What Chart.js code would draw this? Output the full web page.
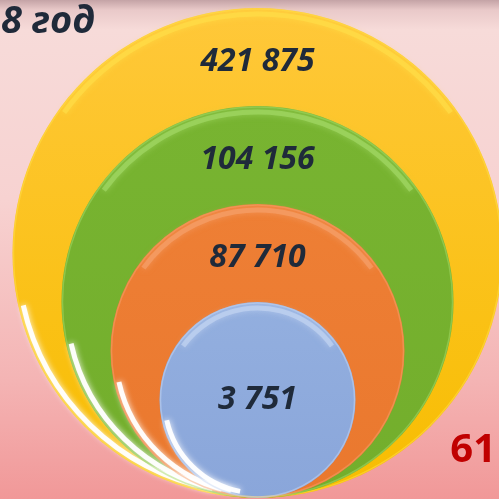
<!DOCTYPE html>
<html>
<head>
<meta charset="utf-8">
<script src="https://cdn.jsdelivr.net/npm/chart.js@4"></script>
<style>
  html, body { margin: 0; padding: 0; }
  body {
    width: 499px; height: 499px; overflow: hidden;
    background: linear-gradient(to bottom, #c4a3a6 0px, #e9c9c9 10px, #f7dbd9 30px, #f7d2d1 200px, #f4b4b4 380px, #f19898 499px);
  }
  #wrap { position: relative; width: 499px; height: 499px; }
</style>
</head>
<body>
<div id="wrap"><canvas id="circlesChart"></canvas></div>
<script>
document.addEventListener('DOMContentLoaded', () => {
    // Данные
    const title = '8 год';
    const corner = '61';
    const values = [421875, 104156, 87710, 3751];
    const labels = ['421 875', '104 156', '87 710', '3 751'];
    const colorsTop = ['#ffc83a', '#78b431', '#ee7f35', '#93afdf'];
    const colorsBottom = ['#f7bd00', '#73ae2c', '#ea782e', '#8aa6da'];
    const rimColors = ['#ffe04a', '#a6dc6a', '#f6a470', '#c8d8f4'];

    // уровни вложенности: самый большой круг снаружи
    const points = values.map((v, i) => ({ x: 0, y: values.length - i + 1 }));

    // радиус = расстояние от нуля оси до центра (все круги касаются низа)
    function ringRadius(chart, level) {
        const s = chart.scales.y;
        if (!s) return 0;
        const r = s.getPixelForValue(0) - s.getPixelForValue(level);
        return isFinite(r) ? r : 0;
    }

    function fillFor(c) {
        const chart = c.chart;
        if (c.type !== 'data' || !chart.chartArea) return colorsTop[c.dataIndex];
        const s = chart.scales.y;
        const r = ringRadius(chart, points[c.dataIndex].y);
        if (!r) return colorsTop[c.dataIndex];
        const cy = s.getPixelForValue(points[c.dataIndex].y);
        const g = chart.ctx.createLinearGradient(0, cy - r, 0, cy + r);
        g.addColorStop(0, colorsTop[c.dataIndex]);
        g.addColorStop(1, colorsBottom[c.dataIndex]);
        return g;
    }

    // блики и подписи
    const decor = {
        id: 'decor',
        afterDatasetsDraw(chart) {
            const c = chart.ctx;
            const meta = chart.getDatasetMeta(0);
            const n = meta.data.length;
            meta.data.forEach((el, i) => {
                const r = ringRadius(chart, points[i].y);
                if (r > 10) {
                    c.save();
                    // светлая полоса сверху
                    c.beginPath();
                    c.arc(el.x, el.y, r - 6, Math.PI * 1.2, Math.PI * 1.8);
                    c.strokeStyle = rimColors[i];
                    c.globalAlpha = 0.6;
                    c.lineWidth = 5;
                    c.shadowColor = rimColors[i];
                    c.shadowBlur = 6;
                    c.stroke();
                    // белый блик снизу слева
                    c.globalAlpha = 1;
                    c.beginPath();
                    c.arc(el.x, el.y, r - 5, Math.PI * 0.56, Math.PI * 0.93);
                    c.strokeStyle = 'rgba(255,255,255,0.95)';
                    c.lineWidth = 5;
                    c.shadowColor = 'rgba(255,255,255,1)';
                    c.shadowBlur = 6;
                    c.stroke();
                    // тонкая кромка
                    c.beginPath();
                    c.arc(el.x, el.y, r - 1, 0, Math.PI * 2);
                    c.strokeStyle = rimColors[i];
                    c.globalAlpha = 0.5;
                    c.lineWidth = 1.5;
                    c.shadowBlur = 0;
                    c.stroke();
                    c.restore();
                }

                const top = el.y - r;
                const ly = i === n - 1 ? el.y : top + 54;
                c.save();
                c.font = 'italic bold 32px "Open Sans"';
                c.fillStyle = '#1f2a3a';
                c.textAlign = 'center';
                c.textBaseline = 'middle';
                c.fillText(labels[i], el.x, ly);
                c.restore();
            });

            c.save();
            c.font = 'italic bold 38px "Open Sans"';
            c.fillStyle = '#1f2a3a';
            c.fillText(title, 1, 33);
            c.font = 'bold 40px "Open Sans"';
            c.fillStyle = '#c00000';
            c.textAlign = 'right';
            c.fillText(corner, 496, 462);
            c.restore();
        }
    };

    const ctx = document.getElementById('circlesChart').getContext('2d');
    const circlesChart = new Chart(ctx, {
        type: 'scatter',
        data: {
            datasets: [{
                data: points,
                pointBackgroundColor: fillFor,
                pointBorderWidth: 0,
                pointRadius: (c) => ringRadius(c.chart, points[c.dataIndex].y),
                pointHoverRadius: (c) => ringRadius(c.chart, points[c.dataIndex].y),
                clip: false
            }]
        },
        options: {
            responsive: true,
            maintainAspectRatio: false,
            animation: false,
            events: [],
            layout: { padding: { left: 16, top: 8, right: 0, bottom: 1 } },
            scales: {
                x: { display: false, min: -1, max: 1 },
                y: { display: false, min: 0, max: 10 }
            },
            plugins: {
                legend: { display: false },
                tooltip: { enabled: false }
            }
        },
        plugins: [decor]
    });
});
</script>
</body>
</html>
